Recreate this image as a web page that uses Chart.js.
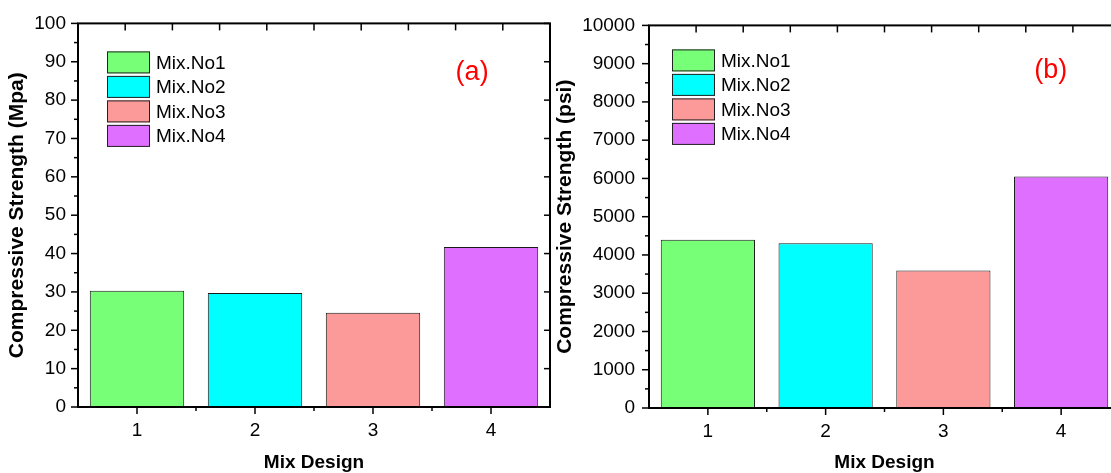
<!DOCTYPE html>
<html>
<head>
<meta charset="utf-8">
<script src="https://cdn.jsdelivr.net/npm/chart.js@4"></script>
<style>
  html, body { margin: 0; padding: 0; background: #fff; overflow: hidden; width: 1111px; height: 473px; }
  #panelA { position: absolute; left: 0; top: 0; }
  #panelB { position: absolute; left: 551px; top: 0; }
</style>
</head>
<body>
<canvas id="panelA" width="553" height="473"></canvas>
<canvas id="panelB" width="580" height="473"></canvas>
<script>
// Mix designs and their measured compressive strengths
const mixDesigns = ['1', '2', '3', '4'];
const mixNames = ['Mix.No1', 'Mix.No2', 'Mix.No3', 'Mix.No4'];
const strengthMpa = [30.3, 29.7, 24.6, 41.7];
const strengthPsi = [4400, 4305, 3595, 6050];
const mixColors = ['#78FF78', '#00FFFF', '#FC9999', '#DF70FF'];

const FONT = '"Liberation Sans", Arial, Helvetica, sans-serif';

// Frame, inward/outward tick marks, in-plot legend and panel tag
const panelDecor = {
  id: 'panelDecor',
  afterDraw(chart, args, opts) {
    const { ctx, chartArea: a } = chart;
    const xs = chart.scales.x, ys = chart.scales.y;
    const seg = (x1, y1, x2, y2) => { ctx.beginPath(); ctx.moveTo(x1, y1); ctx.lineTo(x2, y2); ctx.stroke(); };
    ctx.save();
    ctx.strokeStyle = '#000';
    ctx.lineWidth = 1.5;

    // y axis: major + minor ticks outside on the left, major ticks inside on the right
    const step = ys.options.ticks.stepSize;
    for (let k = 0; k <= Math.round((ys.max - ys.min) / step) * 2; k++) {
      const v = ys.min + k * step / 2;
      const y = ys.getPixelForValue(v);
      const major = k % 2 === 0;
      seg(a.left - (major ? 7 : 4), y, a.left, y);
      if (major) seg(a.right, y, a.right - 6, y);
    }

    // x axis: major ticks at categories, minor ticks between them
    const n = chart.data.labels.length;
    for (let i = 0; i < n; i++) {
      const x = xs.getPixelForValue(i);
      seg(x, a.bottom, x, a.bottom + 7);
      if (i < n - 1) {
        const xm = (x + xs.getPixelForValue(i + 1)) / 2;
        seg(xm, a.bottom, xm, a.bottom + 4);
      }
    }

    // top edge: ten equal divisions, ticks pointing inward
    for (let k = 1; k < 10; k++) {
      const x = a.left + (a.right - a.left) * k / 10;
      seg(x, a.top, x, a.top + 7);
    }

    // plot frame
    ctx.lineWidth = 2;
    ctx.strokeRect(a.left, a.top, a.right - a.left, a.bottom - a.top);

    // legend inside the plot
    const ds = chart.data.datasets[0];
    ctx.lineWidth = 1;
    ctx.font = '19px ' + FONT;
    ctx.textBaseline = 'middle';
    ctx.textAlign = 'left';
    opts.names.forEach((name, i) => {
      const bx = a.left + opts.legendX;
      const by = a.top + opts.legendY + i * 24.5;
      ctx.fillStyle = ds.backgroundColor[i];
      ctx.fillRect(bx, by, 43, 22);
      ctx.strokeStyle = '#222';
      ctx.strokeRect(bx + 0.5, by + 0.5, 42, 21);
      ctx.fillStyle = '#000';
      ctx.fillText(name, bx + 49, by + 12);
    });

    // panel tag
    ctx.fillStyle = '#FF0000';
    ctx.font = '27px ' + FONT;
    ctx.textAlign = 'center';
    ctx.fillText(opts.tag, a.left + (a.right - a.left) * opts.tagX, a.top + (a.bottom - a.top) * opts.tagY);
    ctx.restore();
  }
};

function buildPanel(canvasId, values, yMax, yStep, yTitle, cfg) {
  return new Chart(document.getElementById(canvasId), {
    type: 'bar',
    data: {
      labels: mixDesigns,
      datasets: [{
        data: values,
        backgroundColor: mixColors,
        borderColor: '#1a1a1a',
        borderWidth: 1,
        borderSkipped: false,
        barPercentage: 0.8,
        categoryPercentage: 1.0
      }]
    },
    options: {
      responsive: false,
      animation: false,
      layout: { padding: cfg.padding },
      plugins: {
        legend: { display: false },
        tooltip: { enabled: false },
        panelDecor: { names: mixNames, tag: cfg.tag, tagX: cfg.tagX, tagY: cfg.tagY, legendX: cfg.legendX, legendY: cfg.legendY }
      },
      scales: {
        x: {
          offset: true,
          grid: { display: false, drawTicks: false },
          border: { display: false },
          ticks: { color: '#000', font: { family: FONT, size: 19 }, padding: 12, maxRotation: 0 },
          title: {
            display: true, text: 'Mix Design', color: '#000',
            font: { family: FONT, size: 19, weight: 'bold', lineHeight: 1 },
            padding: { top: 0, bottom: 1 }
          },
          afterFit(s) { s.height = cfg.xHeight; }
        },
        y: {
          min: 0, max: yMax,
          grid: { display: false, drawTicks: false },
          border: { display: false },
          ticks: {
            stepSize: yStep, color: '#000', font: { family: FONT, size: 19 }, padding: cfg.yPad,
            callback: (v) => String(v)
          },
          title: {
            display: true, text: yTitle, color: '#000',
            font: { family: FONT, size: 21, weight: 'bold' },
            padding: { top: cfg.titlePad, bottom: 0 }
          },
          afterFit(s) { s.width = cfg.yWidth; }
        }
      }
    },
    plugins: [panelDecor]
  });
}

buildPanel('panelA', strengthMpa, 100, 10, 'Compressive Strength (Mpa)', {
  padding: { top: 22, right: 3, left: 0, bottom: 0 },
  yWidth: 78, xHeight: 66, yPad: 12, titlePad: 5,
  tag: '(a)', tagX: 0.835, tagY: 0.127, legendX: 29, legendY: 28
});

buildPanel('panelB', strengthPsi, 10000, 1000, 'Compressive Strength (psi)', {
  padding: { top: 24, right: 11, left: 0, bottom: 0 },
  yWidth: 98, xHeight: 65, yPad: 14, titlePad: 2,
  tag: '(b)', tagX: 0.853, tagY: 0.117, legendX: 23, legendY: 24
});
</script>
</body>
</html>
